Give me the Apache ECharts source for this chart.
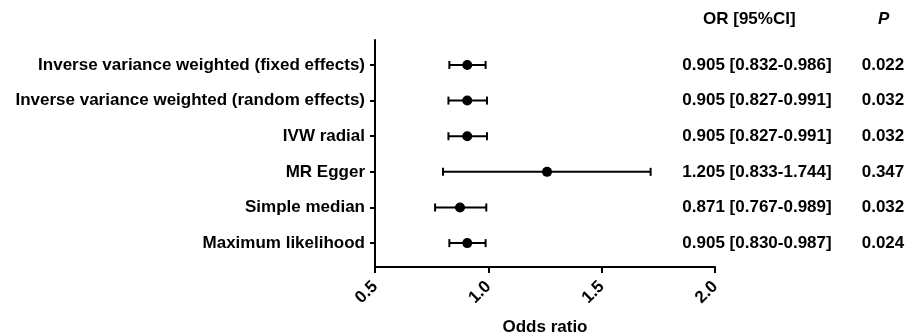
<!DOCTYPE html>
<html>
<head>
<meta charset="utf-8">
<script src="https://cdn.jsdelivr.net/npm/echarts@6/dist/echarts.min.js"></script>
<style>html,body{margin:0;padding:0;background:#fff}#c{width:909px;height:335px}</style>
</head>
<body>
<div id="c"></div>
<script>
var methods = ["Inverse variance weighted (fixed effects)", "Inverse variance weighted (random effects)", "IVW radial", "MR Egger", "Simple median", "Maximum likelihood"];
var orValues = [0.907, 0.907, 0.907, 1.259, 0.875, 0.907];
var lowerCI = [0.828, 0.824, 0.824, 0.800, 0.765, 0.828];
var upperCI = [0.988, 0.994, 0.994, 1.716, 0.991, 0.988];
var orTexts = ["0.905 [0.832-0.986]", "0.905 [0.827-0.991]", "0.905 [0.827-0.991]", "1.205 [0.833-1.744]", "0.871 [0.767-0.989]", "0.905 [0.830-0.987]"];
var pTexts = ["0.022", "0.032", "0.032", "0.347", "0.032", "0.024"];
var xTicks = [0.5, 1.0, 1.5, 2.0];

var FONT = 'Arial, "Liberation Sans", sans-serif';
var FS = 17;
var rows = methods.map(function (m, i) { return i; });
var chart = echarts.init(document.getElementById('c'), null, {renderer: 'canvas'});

var option = {
  backgroundColor: '#fff',
  animation: false,
  grid: {left: 375, right: 194, top: 40, bottom: 68, containLabel: false, outerBoundsMode: 'none'},
  xAxis: {
    type: 'value', min: xTicks[0], max: xTicks[xTicks.length - 1], interval: 0.5,
    name: 'Odds ratio', nameLocation: 'middle', nameGap: 52,
    nameTextStyle: {fontFamily: FONT, fontWeight: 'bold', fontSize: FS, color: '#000'},
    axisLine: {show: true, onZero: false, lineStyle: {color: '#000', width: 2}},
    axisTick: {show: true, length: 6, lineStyle: {color: '#000', width: 2}},
    axisLabel: {rotate: 45, margin: 17, fontFamily: FONT, fontWeight: 'bold', fontSize: FS, color: '#000',
      formatter: function (v) { return v.toFixed(1); }},
    splitLine: {show: false}
  },
  yAxis: {
    type: 'value', inverse: true, min: -0.7, max: 5.67,
    axisLine: {show: true, onZero: false, lineStyle: {color: '#000', width: 2}},
    axisTick: {show: true, length: 5, customValues: rows, lineStyle: {color: '#000', width: 2}},
    axisLabel: {show: true, customValues: rows, margin: 10, fontFamily: FONT, fontWeight: 'bold', fontSize: FS, color: '#000',
      formatter: function (v) { return methods[Math.round(v)] || ''; }},
    splitLine: {show: false}
  },
  graphic: [
    {type: 'text', left: 703, top: 11, style: {text: 'OR [95%CI]', font: 'bold ' + FS + 'px ' + FONT, fill: '#000'}},
    {type: 'text', left: 878, top: 11, style: {text: 'P', font: 'italic bold ' + FS + 'px ' + FONT, fill: '#000'}}
  ],
  series: [
    {
      type: 'custom', clip: false,
      data: rows.map(function (i) { return [lowerCI[i], upperCI[i], i]; }),
      renderItem: function (params, api) {
        var a = api.coord([api.value(0), api.value(2)]);
        var b = api.coord([api.value(1), api.value(2)]);
        var h = 4;
        var st = {stroke: '#000', lineWidth: 2};
        return {type: 'group', children: [
          {type: 'line', shape: {x1: a[0], y1: a[1], x2: b[0], y2: b[1]}, style: st},
          {type: 'line', shape: {x1: a[0], y1: a[1] - h, x2: a[0], y2: a[1] + h}, style: st},
          {type: 'line', shape: {x1: b[0], y1: b[1] - h, x2: b[0], y2: b[1] + h}, style: st}
        ]};
      }
    },
    {
      type: 'scatter', symbol: 'circle', symbolSize: 10,
      itemStyle: {color: '#000', opacity: 1},
      data: rows.map(function (i) { return [orValues[i], i]; }),
      z: 5
    },
    {
      type: 'custom', clip: false,
      data: rows.map(function (i) { return [xTicks[0], i]; }),
      renderItem: function (params, api) {
        var i = params.dataIndex;
        var p = api.coord([api.value(0), api.value(1)]);
        return {type: 'group', children: [
          {type: 'text', x: 757, y: p[1], style: {text: orTexts[i], font: 'bold ' + FS + 'px ' + FONT, fill: '#000', align: 'center', verticalAlign: 'middle'}},
          {type: 'text', x: 883, y: p[1], style: {text: pTexts[i], font: 'bold ' + FS + 'px ' + FONT, fill: '#000', align: 'center', verticalAlign: 'middle'}}
        ]};
      }
    }
  ]
};
chart.setOption(option);
</script>
</body>
</html>
